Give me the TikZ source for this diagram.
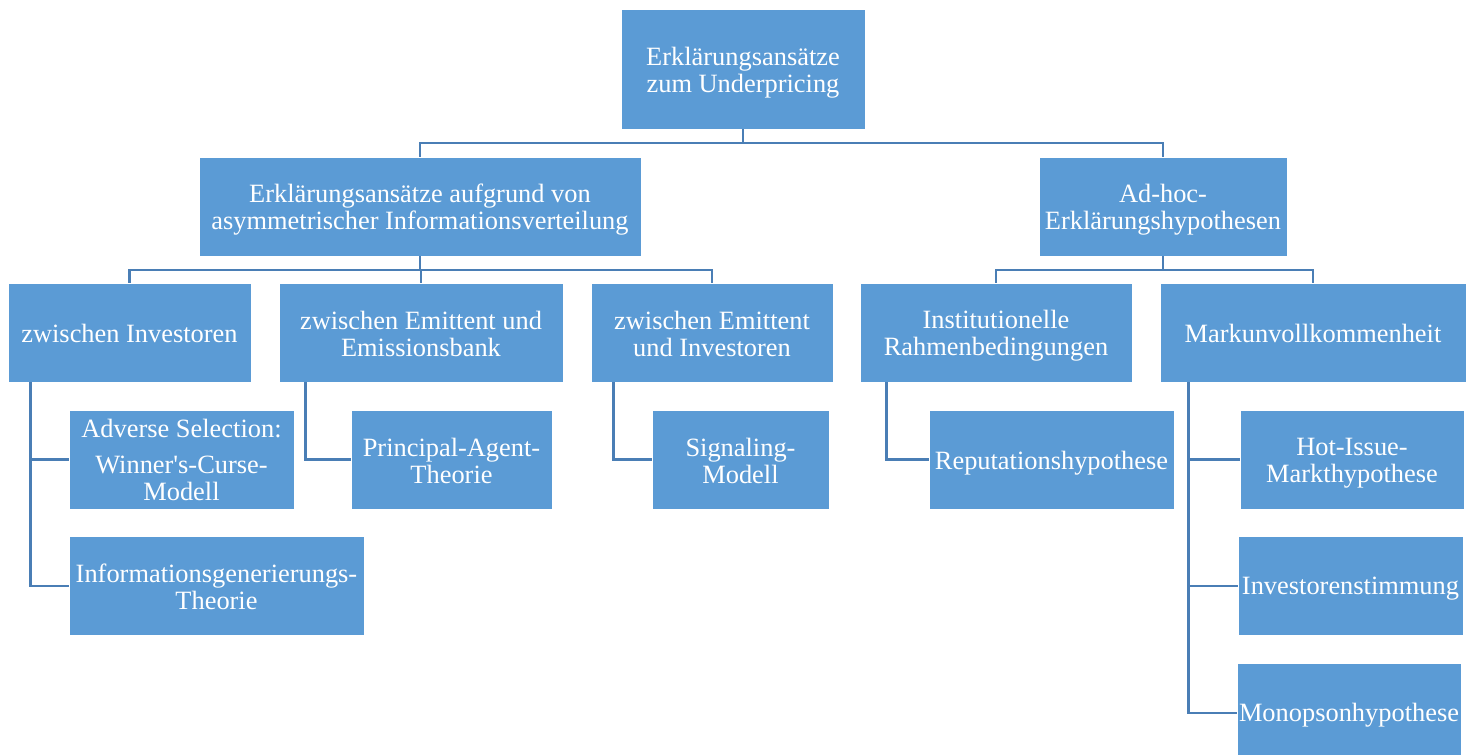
\documentclass[tikz,border=0pt]{standalone}
\usepackage{fontspec}
\setmainfont{Liberation Serif}
\definecolor{boxfill}{HTML}{5B9BD5}
\definecolor{linecol}{HTML}{4A7EB5}
\begin{document}
\begin{tikzpicture}[x=1pt,y=-1pt,
  box/.style={fill=boxfill, draw=white, line width=0.8pt, inner sep=0pt},
  txt/.style={text=white, align=center, inner sep=0pt, font=\fontsize{26.4}{27}\selectfont},
  conn/.style={draw=linecol, line width=2.6pt}]
\useasboundingbox (0,0) rectangle (1476,755);
\begin{scope}
\clip (0,0) rectangle (1476,755);
% level 0
\node[box, minimum width=244, minimum height=120] (root) at (743,69) {};
% level 1
\node[box, minimum width=442, minimum height=99] (L) at (420,206.5) {};
\node[box, minimum width=248, minimum height=99] (R) at (1163,206.5) {};
% level 2
\node[box, minimum width=243, minimum height=99] (A) at (129.5,332.5) {};
\node[box, minimum width=284, minimum height=99] (B) at (421,332.5) {};
\node[box, minimum width=242, minimum height=99] (C) at (712,332.5) {};
\node[box, minimum width=272, minimum height=99] (D) at (996,332.5) {};
\node[box, minimum width=306, minimum height=99] (E) at (1313,332.5) {};
% level 3
\node[box, minimum width=225, minimum height=99] (A1) at (181.5,459.5) {};
\node[box, minimum width=295, minimum height=99] (A2) at (216.5,586) {};
\node[box, minimum width=201, minimum height=99] (B1) at (451.5,459.5) {};
\node[box, minimum width=177, minimum height=99] (C1) at (740.5,459.5) {};
\node[box, minimum width=245, minimum height=99] (D1) at (1051.5,459.5) {};
\node[box, minimum width=224, minimum height=99] (E1) at (1352,459.5) {};
\node[box, minimum width=225, minimum height=99] (E2) at (1350.5,586) {};
\node[box, minimum width=224, minimum height=100] (E3) at (1349,713) {};
\end{scope}
% texts
\node[txt] (troot) at ([yshift=-3.5pt]root.center) {Erklärungsansätze\\zum Underpricing};
\node[txt] (tL) at ([yshift=-3.5pt]L.center) {Erklärungsansätze aufgrund von\\asymmetrischer Informationsverteilung};
\node[txt] (tR) at ([yshift=-3.5pt]R.center) {Ad-hoc-\\Erklärungshypothesen};
\node[txt] (tA) at ([yshift=-1pt]A.center) {zwischen Investoren};
\node[txt] (tB) at ([yshift=-1.5pt]B.center) {zwischen Emittent und\\Emissionsbank};
\node[txt] (tC) at ([yshift=-1.5pt]C.center) {zwischen Emittent\\und Investoren};
\node[txt] (tD) at ([yshift=-3.5pt]D.center) {Institutionelle\\Rahmenbedingungen};
\node[txt] (tE) at ([yshift=-1pt]E.center) {Markunvollkommenheit};
\node[txt] (tA1) at (A1.center) {Adverse Selection:\\[9pt]Winner\textquotesingle s-Curse-\\Modell};
\node[txt] (tA2) at ([yshift=-1pt]A2.center) {Informationsgenerierungs-\\Theorie};
\node[txt] (tB1) at ([yshift=-1pt]B1.center) {Principal-Agent-\\Theorie};
\node[txt] (tC1) at ([yshift=-1pt]C1.center) {Signaling-\\Modell};
\node[txt] (tD1) at ([yshift=-3.5pt]D1.center) {Reputationshypothese};
\node[txt] (tE1) at ([yshift=-3.5pt]E1.center) {Hot-Issue-\\Markthypothese};
\node[txt] (tE2) at ([yshift=-3pt]E2.center) {Investorenstimmung};
\node[txt] (tE3) at ([yshift=-2pt]E3.center) {Monopsonhypothese};
% connectors level 0-1
\coordinate (bus0) at (743,143);
\draw[conn] (root.south) -- (bus0);
\draw[conn] (bus0) -| (L.north);
\draw[conn] (bus0) -| (R.north);
% level 1-2
\coordinate (busL) at (420,270);
\draw[conn] (L.south) -- (busL);
\draw[conn] (busL) -| (A.north);
\draw[conn] (busL) -| (B.north);
\draw[conn] (busL) -| (C.north);
\coordinate (busR) at (1163,270);
\draw[conn] (R.south) -- (busR);
\draw[conn] (busR) -| (D.north);
\draw[conn] (busR) -| (E.north);
% level 2-3
\coordinate (a0) at ([xshift=23pt]A.south west);
\draw[conn] (a0) |- (A1.west);
\draw[conn] (a0) |- (A2.west);
\coordinate (b0) at ([xshift=27pt]B.south west);
\draw[conn] (b0) |- (B1.west);
\coordinate (c0) at ([xshift=23pt]C.south west);
\draw[conn] (c0) |- (C1.west);
\coordinate (d0) at ([xshift=27pt]D.south west);
\draw[conn] (d0) |- (D1.west);
\coordinate (e0) at ([xshift=29pt]E.south west);
\draw[conn] (e0) |- (E1.west);
\draw[conn] (e0) |- (E2.west);
\draw[conn] (e0) |- (E3.west);
\end{tikzpicture}
\end{document}
